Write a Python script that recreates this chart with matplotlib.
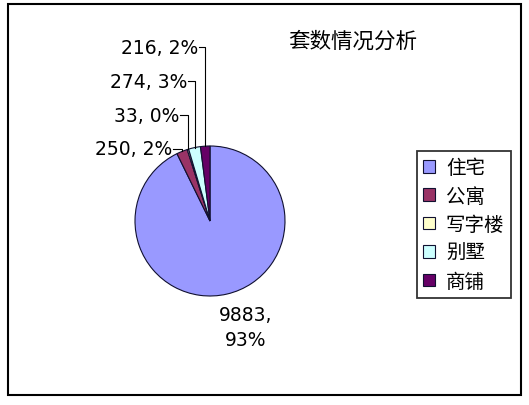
import numpy as np
import matplotlib
matplotlib.use("Agg")
import matplotlib.pyplot as plt
from matplotlib.patches import Rectangle

plt.rcParams['font.family'] = ['Noto Sans CJK SC', 'DejaVu Sans']

categories = ['住宅', '公寓', '写字楼', '别墅', '商铺']
counts = [9883, 250, 33, 274, 216]
colors = ['#9999FF', '#993366', '#FFFFCC', '#CCFFFF', '#660066']
title = '套数情况分析'

W, H = 529, 406
fig = plt.figure(figsize=(W / 100, H / 100), dpi=100)
ax = fig.add_axes([0, 0, 1, 1])
ax.set_xlim(0, W)
ax.set_ylim(0, H)
ax.set_aspect('equal')
ax.axis('off')

def Y(y):
    # image row -> data y
    return H - y

cx, cy, r = 210, Y(222), 75
wedges, _ = ax.pie(counts, colors=colors, startangle=90, counterclock=False,
                   center=(cx, cy), radius=r,
                   wedgeprops=dict(edgecolor='#101030', linewidth=0.8))
ax.set_xlim(0, W)
ax.set_ylim(0, H)

total = sum(counts)
labels = ['%d, %d%%' % (c, round(100 * c / total)) for c in counts]
lab_font = dict(family=['DejaVu Sans'], fontsize=13.5)

# label anchors (right end of text, image row)
label_pos = {1: (172, 150), 2: (179, 116), 3: (187, 82), 4: (198, 48)}
for i, w in enumerate(wedges):
    mid = np.deg2rad((w.theta1 + w.theta2) / 2)
    rx, ry = cx + r * np.cos(mid), cy + r * np.sin(mid)
    if i == 0:
        ax.text(246, Y(328), '%d,\n%d%%' % (counts[0], round(100 * counts[0] / total)),
                ha='center', va='center', linespacing=1.45, **lab_font)
        continue
    tx, ty = label_pos[i]
    ax.text(tx, Y(ty), labels[i], ha='right', va='center', **lab_font)
    ax.plot([tx + 1, rx, rx], [Y(ty), Y(ty), ry], color='black', lw=0.8)

ax.text(353, Y(42), title, ha='center', va='center', fontsize=15.5)

leg = ax.legend(wedges, categories, loc='upper left',
                bbox_to_anchor=(417 / W, 1 - 152 / H), frameon=True,
                fancybox=False, edgecolor='black', fontsize=14,
                handlelength=0.62, handleheight=0.62, handletextpad=0.55,
                labelspacing=0.38, borderpad=0.32, borderaxespad=0)
leg.get_frame().set_linewidth(1.3)

fig.patches.append(Rectangle((8 / W, 1 - 396 / H), 513 / W, 391 / H,
                             transform=fig.transFigure, fill=False,
                             edgecolor='black', linewidth=1.5))

fig.savefig('out.png', dpi=100)
